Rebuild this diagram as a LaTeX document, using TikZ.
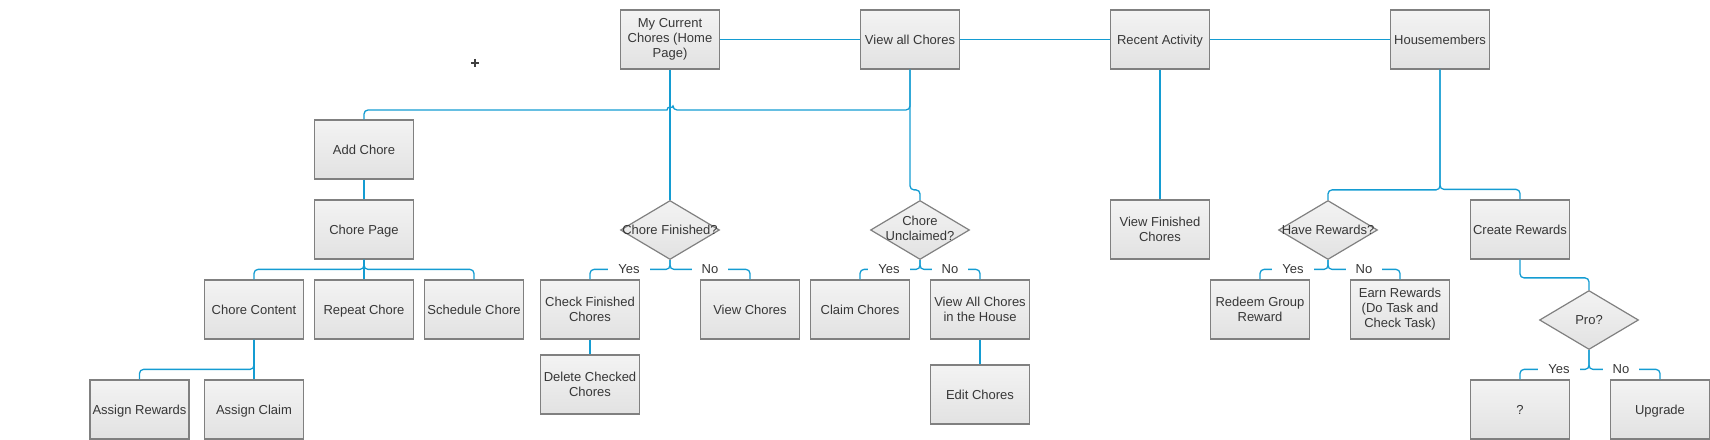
\documentclass[tikz,border=0pt]{standalone}
\usepackage{fontspec}
\setmainfont{Liberation Sans}
\usetikzlibrary{shapes.geometric,calc}
\definecolor{conncol}{RGB}{20,156,210}
\definecolor{boxborder}{RGB}{128,128,128}
\definecolor{txtcol}{RGB}{55,55,55}
\definecolor{topfill}{RGB}{243,243,243}
\definecolor{botfill}{RGB}{226,226,226}
\begin{document}
\begin{tikzpicture}[x=1bp,y=1bp,
  box/.style={draw=boxborder, line width=1.2bp, top color=topfill, bottom color=botfill,
    minimum width=99bp, minimum height=59bp, inner sep=0pt, align=center, text=txtcol,
    font=\fontsize{13bp}{15bp}\selectfont},
  one/.style={box, text height=9.5bp, text depth=0pt},
  dia/.style={box, diamond},
  conn/.style={draw=conncol, line width=1.3bp, rounded corners=4bp},
  yn/.style={fill=white, inner xsep=10bp, inner ysep=1bp, text=txtcol,
    font=\fontsize{13bp}{15bp}\selectfont},
  plusmark/.style={draw=black!75, line width=1.3bp}]
\useasboundingbox (0,0) rectangle (1710,-440);
\begin{pgfinterruptboundingbox}

% top row
\node[box] (cur) at (670,-39.5) {My Current\\Chores (Home\\Page)};
\node[one] (view) at (910,-39.5) {View all Chores};
\node[one] (recent) at (1160,-39.5) {Recent Activity};
\node[one] (house) at (1440,-39.5) {Housemembers};

% left branch
\node[one] (add) at (364,-149.5) {Add Chore};
\node[one] (cp) at (364,-229.5) {Chore Page};
\node[one] (cc) at (254,-309.5) {Chore Content};
\node[one] (rep) at (364,-309.5) {Repeat Chore};
\node[one] (sch) at (474,-309.5) {Schedule Chore};
\node[one] (ar) at (139.5,-409.5) {Assign Rewards};
\node[one] (ac) at (254,-409.5) {Assign Claim};

% chore finished
\node[dia] (cf) at (670,-230) {\makebox[0pt]{Chore Finished?}};
\node[box] (cfin) at (590,-309.5) {Check Finished\\Chores};
\node[one] (vc) at (750,-309.5) {View Chores};
\node[box] (del) at (590,-384.5) {Delete Checked\\Chores};

% chore unclaimed
\node[dia] (cu) at (920,-230) {\makebox[0pt]{\begin{tabular}{@{}c@{}}Chore\\Unclaimed?\end{tabular}}};
\node[one] (clm) at (860,-309.5) {Claim Chores};
\node[box] (vall) at (980,-309.5) {View All Chores\\in the House};
\node[one] (edit) at (980,-394.5) {Edit Chores};

% recent
\node[box] (vf) at (1160,-229.5) {View Finished\\Chores};

% housemembers
\node[dia] (hr) at (1328,-230) {\makebox[0pt]{Have Rewards?}};
\node[one] (crw) at (1520,-229.5) {Create Rewards};
\node[box] (red) at (1260,-309.5) {Redeem Group\\Reward};
\node[box] (earn) at (1400,-309.5) {Earn Rewards\\(Do Task and\\Check Task)};
\node[dia] (pro) at (1589,-320) {\makebox[0pt]{Pro?}};
\node[one] (q) at (1520,-409.5) {?};
\node[one] (up) at (1660,-409.5) {Upgrade};

% connectors top row
\draw[conn] (cur.east) -- (view.west);
\draw[conn] (view.east) -- (recent.west);
\draw[conn] (recent.east) -- (house.west);

\coordinate (hopR) at (673,-110);
\draw[conn] (view.south) |- (hopR) [sharp corners] arc[start angle=0,end angle=180,radius=3bp] [rounded corners=4bp] -| (add.north);
\draw[conn] (view.south) |- ($(cu.north)+(0,10)$) -- (cu.north);
\draw[conn] (cur.south) -- (cf.north);

\draw[conn] (add.south) -- (cp.north);
\draw[conn] (cp.south) |- ($(cc.north)+(0,10)$) -- (cc.north);
\draw[conn] (cp.south) -- (rep.north);
\draw[conn] (cp.south) |- ($(sch.north)+(0,10)$) -- (sch.north);
\draw[conn] (cc.south) -- (ac.north);
\draw[conn] (cc.south) |- ($(ar.north)+(0,10)$) -- (ar.north);

\draw[conn] (cf.south) |- ($(cfin.north)+(0,10)$) -- (cfin.north);
\draw[conn] (cf.south) |- ($(vc.north)+(0,10)$) -- (vc.north);
\draw[conn] (cfin.south) -- (del.north);

\draw[conn] (cu.south) |- ($(clm.north)+(0,10)$) -- (clm.north);
\draw[conn] (cu.south) |- ($(vall.north)+(0,10)$) -- (vall.north);
\draw[conn] (vall.south) -- (edit.north);

\draw[conn] (recent.south) -- (vf.north);

\draw[conn] (house.south) |- ($(hr.north)+(0,10)$) -- (hr.north);
\draw[conn] (house.south) |- ($(crw.north)+(0,10)$) -- (crw.north);
\draw[conn] (hr.south) |- ($(red.north)+(0,10)$) -- (red.north);
\draw[conn] (hr.south) |- ($(earn.north)+(0,10)$) -- (earn.north);
\draw[conn] (crw.south) |- ($(pro.north)+(0,12)$) -- (pro.north);
\draw[conn] (pro.south) |- ($(q.north)+(0,10)$) -- (q.north);
\draw[conn] (pro.south) |- ($(up.north)+(0,10)$) -- (up.north);

% labels
\node[yn] (cfy) at (629,-269) {Yes};
\node[yn] (cfn) at (710,-269) {No};
\node[yn] (cuy) at (889,-269) {Yes};
\node[yn] (cun) at (950,-269) {No};
\node[yn] (hry) at (1293,-269) {Yes};
\node[yn] (hrn) at (1364,-269) {No};
\node[yn] (proy) at (1559,-369) {Yes};
\node[yn] (pron) at (1621,-369) {No};

% plus mark
\draw[plusmark] (471,-63) -- (479,-63) (475,-59) -- (475,-67);
\end{pgfinterruptboundingbox}
\end{tikzpicture}
\end{document}
